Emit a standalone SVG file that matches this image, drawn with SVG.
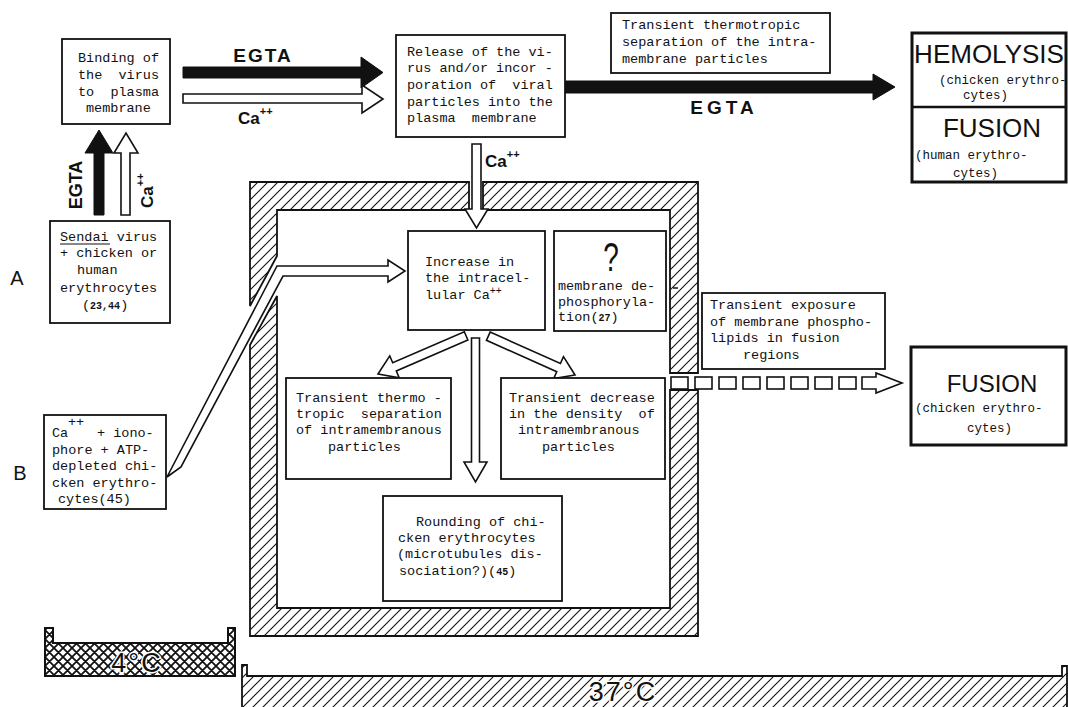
<svg xmlns="http://www.w3.org/2000/svg" width="1068" height="707" viewBox="0 0 1068 707" xml:space="preserve">
<defs>
<style>
.t{font-family:"Liberation Mono","DejaVu Sans Mono",monospace;font-size:13.5px;fill:#111;white-space:pre}
.sm{font-size:12.5px}
.ref{font-weight:bold;font-size:10px}
.bx{fill:#fff;stroke:#111;stroke-width:1.8}
.bxk{fill:#fff;stroke:#111;stroke-width:3}
.sf{font-family:"Liberation Sans",Arial,sans-serif;fill:#111}
.lb{font-family:"Liberation Sans",Arial,sans-serif;font-weight:bold;fill:#111}
.wa{fill:#fff;stroke:#111;stroke-width:1.6;stroke-linejoin:miter}
.ba{fill:#111;stroke:#111;stroke-width:1}
.wall{fill:url(#hatch);stroke:#111;stroke-width:1.8}
.halo{paint-order:stroke;stroke:#fff;stroke-width:3}
.sq{fill:#fff;stroke:#111;stroke-width:1.6}
</style>
<pattern id="hatch" patternUnits="userSpaceOnUse" width="10" height="10"><rect width="10" height="10" fill="#fff"/><path d="M0,10 L10,0 M-1,1 L1,-1 M9,11 L11,9" stroke="#111" stroke-width="1.1"/></pattern>
<pattern id="xhatch" patternUnits="userSpaceOnUse" width="9" height="9"><rect width="9" height="9" fill="#fff"/><path d="M0,9 L9,0 M0,0 L9,9 M-1,1 L1,-1 M8,10 L10,8 M-1,8 L1,10 M8,-1 L10,1" stroke="#111" stroke-width="1.8"/></pattern>
</defs>
<rect width="1068" height="707" fill="#fff"/>

<g id="walls">
<polygon class="wall" points="250,182 469,182 469,210 277,210 277,256 250,306"/>
<polygon class="wall" points="483,182 698,182 698,373 670,373 670,210 483,210"/>
<polygon class="wall" points="250,345 277,296 277,608 670,608 670,390 698,390 698,636 250,636"/>
<line x1="673" y1="288" x2="678" y2="288" stroke="#111" stroke-width="1.5"/>
</g>

<g id="temp4">
<polygon points="45,628 53,628 53,643 228,643 228,628 235,628 235,676 45,676" fill="url(#xhatch)" stroke="#111" stroke-width="2"/>
<text class="sf halo" x="137" y="672" font-size="27" text-anchor="middle" letter-spacing="2">4°C</text>
</g>
<g id="temp37">
<polygon points="242,665 247,665 247,676 1062,676 1062,666 1067,666 1067,712 242,712" class="wall"/>
<text class="sf halo" x="623" y="701" font-size="27" text-anchor="middle" letter-spacing="2">37°C</text>
</g>

<g id="connectors">
<polygon class="ba" points="183,67 361,67 361,57 383,72.5 361,88 361,78 183,78"/>
<polygon class="wa" points="183,94 362,94 362,85 383,99 362,113 362,103 183,103"/>
<polygon class="ba" points="94,215 94,153 85,153 99,130 113,153 104,153 104,215"/>
<polygon class="wa" points="121,215 121,153 114,153 126,133 138,153 130,153 130,215"/>
<polygon class="ba" points="565,81 873,81 873,74 895,87 873,100 873,93 565,93"/>
<polygon class="wa" points="472,144 472,209 465,209 476.5,228 488,209 481,209 481,144"/>
<polygon class="wa" points="167,477 277,266 388,266 388,260 405,271 388,282 388,276 283,276 181,467"/>
<polygon class="wa" transform="translate(378,374) rotate(156.6)" points="-96,-4.5 -18,-4.5 -18,-12 0,0 -18,12 -18,4.5 -96,4.5"/>
<polygon class="wa" transform="translate(575,375) rotate(24.1)" points="-95,-4.5 -18,-4.5 -18,-12 0,0 -18,12 -18,4.5 -95,4.5"/>
<polygon class="wa" transform="translate(475.5,482) rotate(90)" points="-144,-4 -20,-4 -20,-11.5 0,0 -20,11.5 -20,4 -144,4"/>
<g>
<rect class="sq" x="671" y="377" width="17" height="12"/>
<rect class="sq" x="695" y="377" width="17" height="12"/>
<rect class="sq" x="719" y="377" width="17" height="12"/>
<rect class="sq" x="743" y="377" width="17" height="12"/>
<rect class="sq" x="767" y="377" width="17" height="12"/>
<rect class="sq" x="791" y="377" width="17" height="12"/>
<rect class="sq" x="815" y="377" width="17" height="12"/>
<rect class="sq" x="839" y="377" width="17" height="12"/>
</g>
<polygon class="wa" points="862,377 876,377 876,373 902,383 876,393 876,389 862,389"/>
<text class="lb" x="263" y="62" font-size="19" text-anchor="middle" letter-spacing="2">EGTA</text>
<text class="lb" x="238" y="124" font-size="17">Ca<tspan font-size="11" dy="-9">++</tspan></text>
<text class="lb" x="724" y="114" font-size="19" text-anchor="middle" letter-spacing="4">EGTA</text>
<text class="lb" x="485" y="167" font-size="17">Ca<tspan font-size="11" dy="-9">++</tspan></text>
<text class="lb" transform="translate(82,185) rotate(-90)" font-size="18" text-anchor="middle">EGTA</text>
<text class="lb" transform="translate(153,208) rotate(-90)" font-size="17">Ca<tspan font-size="11" dy="-9">++</tspan></text>
</g>

<g id="binding">
<rect class="bx" x="62" y="39" width="108" height="85"/>
<text class="t" x="78" y="62">Binding of</text>
<text class="t" x="78" y="79">the  virus</text>
<text class="t" x="78" y="96">to  plasma</text>
<text class="t" x="86" y="112">membrane</text>
</g>

<g id="release">
<rect class="bx" x="396" y="35" width="169" height="102"/>
<text class="t" x="407" y="56">Release of the vi-</text>
<text class="t" x="407" y="72">rus and/or incor -</text>
<text class="t" x="407" y="89">poration of  viral</text>
<text class="t" x="407" y="106">particles into the</text>
<text class="t" x="407" y="122">plasma  membrane</text>
</g>

<g id="thermotropic-top">
<rect class="bx" x="611" y="13" width="219" height="60"/>
<text class="t" x="622" y="29">Transient thermotropic</text>
<text class="t" x="622" y="46">separation of the intra-</text>
<text class="t" x="622" y="63">membrane particles</text>
</g>

<g id="hemolysis-fusion">
<rect class="bxk" x="912" y="33" width="154" height="149"/>
<line x1="912" y1="107" x2="1066" y2="107" stroke="#111" stroke-width="2.5"/>
<text class="sf" x="989" y="63" font-size="26" text-anchor="middle">HEMOLYSIS</text>
<text class="t sm" x="939" y="84">(chicken erythro-</text>
<text class="t sm" x="963" y="99">cytes)</text>
<text class="sf" x="992" y="137" font-size="26" text-anchor="middle">FUSION</text>
<text class="t sm" x="915" y="159">(human erythro-</text>
<text class="t sm" x="953" y="177">cytes)</text>
</g>

<g id="label-A"><text class="sf" x="17" y="285" font-size="20" text-anchor="middle">A</text></g>
<g id="label-B"><text class="sf" x="20" y="480" font-size="20" text-anchor="middle">B</text></g>

<g id="sendai">
<rect class="bx" x="50" y="221" width="120" height="102"/>
<text class="t" x="60" y="241">Sendai virus</text>
<line x1="60" y1="244" x2="110" y2="244" stroke="#111" stroke-width="1.2"/>
<text class="t" x="60" y="257">+ chicken or</text>
<text class="t" x="77" y="274">human</text>
<text class="t" x="60" y="292">erythrocytes</text>
<text class="t" x="82" y="309">(<tspan class="ref">23,44</tspan>)</text>
</g>

<g id="ionophore">
<rect class="bx" x="44" y="415" width="122" height="94"/>
<text class="t" x="52" y="437">Ca</text>
<text class="t" x="68" y="426" font-size="11">++</text>
<text class="t" x="97" y="437">+ iono-</text>
<text class="t" x="52" y="454">phore + ATP-</text>
<text class="t" x="52" y="470">depleted chi-</text>
<text class="t" x="52" y="487">cken erythro-</text>
<text class="t" x="58" y="503">cytes(45)</text>
</g>

<g id="increase">
<rect class="bx" x="408" y="231" width="137" height="99"/>
<text class="t" x="425" y="266">Increase in</text>
<text class="t" x="425" y="282">the intracel-</text>
<text class="t" x="425" y="299">lular Ca<tspan font-size="10" dy="-5">++</tspan></text>
</g>

<g id="dephosphorylation">
<rect class="bx" x="554" y="231" width="112" height="100"/>
<text class="sf" transform="translate(611,271) scale(0.7,1)" font-size="40" text-anchor="middle">?</text>
<text class="t" x="558" y="290">membrane de-</text>
<text class="t" x="558" y="306">phosphoryla-</text>
<text class="t" x="558" y="321">tion(<tspan class="ref">27</tspan>)</text>
</g>

<g id="thermotropic-inner">
<rect class="bx" x="286" y="378" width="165" height="101"/>
<text class="t" x="296" y="402">Transient thermo -</text>
<text class="t" x="296" y="418">tropic  separation</text>
<text class="t" x="296" y="434">of intramembranous</text>
<text class="t" x="328" y="451">particles</text>
</g>

<g id="density">
<rect class="bx" x="501" y="378" width="164" height="101"/>
<text class="t" x="509" y="402">Transient decrease</text>
<text class="t" x="509" y="418">in the density  of</text>
<text class="t" x="518" y="434">intramembranous</text>
<text class="t" x="542" y="451">particles</text>
</g>

<g id="rounding">
<rect class="bx" x="383" y="496" width="179" height="105"/>
<text class="t" x="416" y="526">Rounding of chi-</text>
<text class="t" x="398" y="542">cken erythrocytes</text>
<text class="t" x="397" y="558">(microtubules dis-</text>
<text class="t" x="399" y="575">sociation?)(<tspan class="ref">45</tspan>)</text>
</g>

<g id="exposure">
<rect class="bx" x="702" y="293" width="183" height="76"/>
<text class="t" x="710" y="309">Transient exposure</text>
<text class="t" x="710" y="326">of membrane phospho-</text>
<text class="t" x="710" y="342">lipids in fusion</text>
<text class="t" x="743" y="359">regions</text>
</g>

<g id="fusion-chicken">
<rect class="bxk" x="911" y="347" width="155" height="98"/>
<text class="sf" x="992" y="392" font-size="24" text-anchor="middle">FUSION</text>
<text class="t sm" x="915" y="412">(chicken erythro-</text>
<text class="t sm" x="967" y="432">cytes)</text>
</g>
</svg>
